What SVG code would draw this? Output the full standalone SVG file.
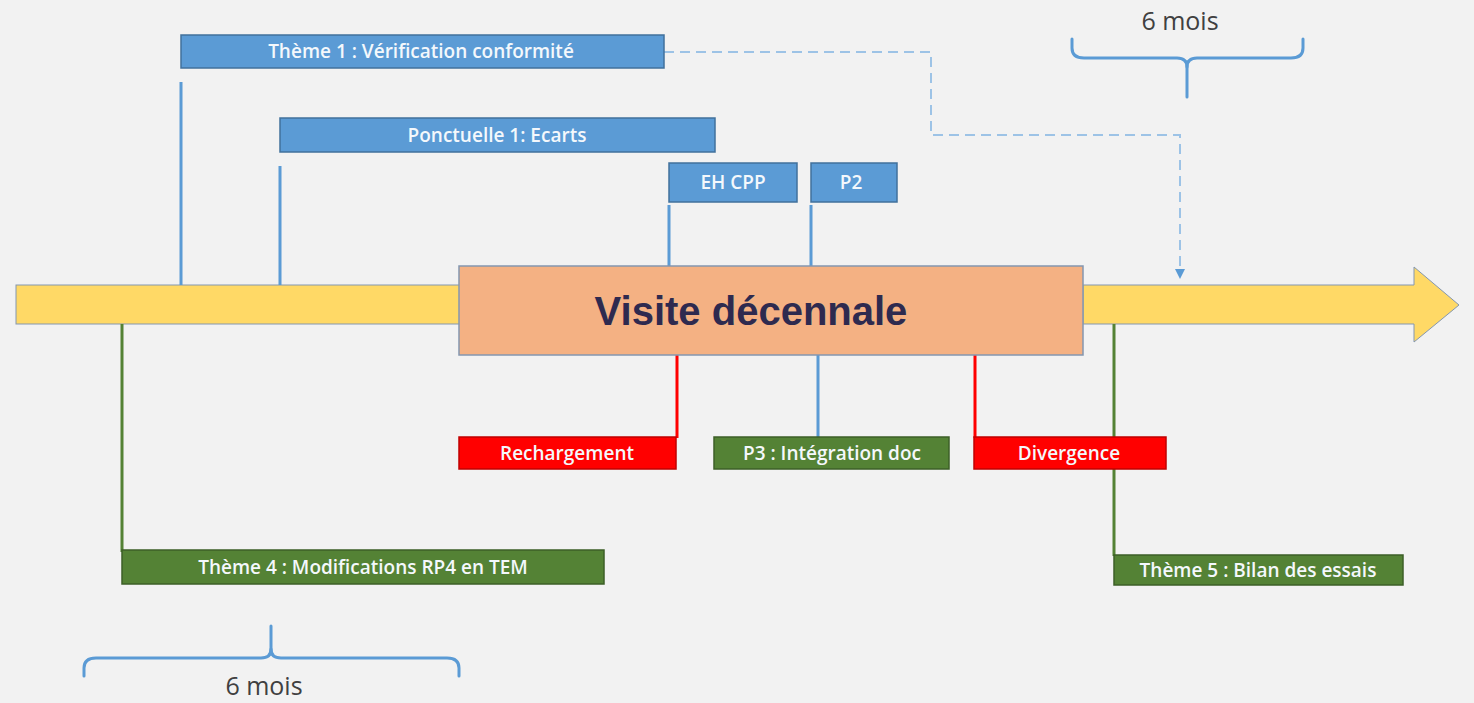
<svg xmlns="http://www.w3.org/2000/svg" width="1474" height="703" viewBox="0 0 1474 703">
<defs>
<style>
.lbl{font-family:"Open Sans","Noto Sans",sans-serif;font-size:19px;font-weight:600;fill:#f4f8fc;text-anchor:middle;dominant-baseline:central}
.blue{fill:#5b9bd5;stroke:#41719c;stroke-width:1.5}
.green{fill:#548235;stroke:#3d5f27;stroke-width:1.5}
.red{fill:#ff0000;stroke:#c00000;stroke-width:1.5}
.lb{stroke:#5b9bd5;stroke-width:3;fill:none}
.lg{stroke:#548235;stroke-width:3;fill:none}
.lr{stroke:#ff0000;stroke-width:3;fill:none}
.brace{stroke:#5b9bd5;stroke-width:3;fill:none;stroke-linecap:round;stroke-linejoin:round}
.mois{font-family:"Open Sans","Noto Sans",sans-serif;font-size:25px;fill:#404040;text-anchor:middle}
</style>
<marker id="ah" viewBox="0 0 10 10" refX="8" refY="5" markerWidth="10" markerHeight="10" markerUnits="userSpaceOnUse" orient="auto">
<path d="M0,0 L10,5 L0,10 Z" fill="#5b9bd5"/>
</marker>
</defs>
<rect width="1474" height="703" fill="#f2f2f2"/>

<g id="timeline">
<rect x="16" y="285" width="444" height="39" fill="#ffd966" stroke="#8497b0" stroke-width="1"/>
<path d="M1083,285 L1414,285 L1414,267 L1459,305 L1414,342 L1414,324 L1083,324 Z" fill="#ffd966" stroke="#8497b0" stroke-width="1"/>
</g>

<g id="connectors">
<line class="lb" x1="181" y1="82" x2="181" y2="285"/>
<line class="lb" x1="280" y1="166" x2="280" y2="285"/>
<line class="lb" x1="669" y1="205" x2="669" y2="266"/>
<line class="lb" x1="811" y1="205" x2="811" y2="266"/>
<path d="M664,52 L931,52 L931,135 L1180,135 L1180,277" fill="none" stroke="#9dc3e6" stroke-width="2" stroke-dasharray="10,6" marker-end="url(#ah)"/>
<line class="lg" x1="122" y1="324" x2="122" y2="552"/>
<line class="lr" x1="677" y1="355" x2="677" y2="438"/>
<line class="lb" x1="818" y1="355" x2="818" y2="438"/>
<line class="lr" x1="975" y1="355" x2="975" y2="438"/>
<line class="lg" x1="1114" y1="324" x2="1114" y2="556"/>
</g>

<g id="visite">
<rect x="459" y="266" width="624" height="89" fill="#f4b183" stroke="#8497b0" stroke-width="1.5"/>
<text x="751" y="325" font-family="'Liberation Sans',Arial,sans-serif" font-size="40" font-weight="bold" fill="#2e2a4f" text-anchor="middle">Visite décennale</text>
</g>

<g id="theme1"><rect class="blue" x="181" y="35" width="483" height="33"/><text class="lbl" x="421" y="51">Thème 1 : Vérification conformité</text></g>
<g id="ponctuelle1"><rect class="blue" x="280" y="118" width="435" height="34"/><text class="lbl" x="497" y="135">Ponctuelle 1: Ecarts</text></g>
<g id="ehcpp"><rect class="blue" x="669" y="163" width="128" height="39"/><text class="lbl" x="733" y="182">EH CPP</text></g>
<g id="p2"><rect class="blue" x="811" y="163" width="86" height="39"/><text class="lbl" x="851" y="182">P2</text></g>

<g id="theme4"><rect class="green" x="122" y="550" width="482" height="34"/><text class="lbl" x="363" y="567">Thème 4 : Modifications RP4 en TEM</text></g>
<g id="rechargement"><rect class="red" x="459" y="437" width="217" height="32"/><text class="lbl" x="567" y="453">Rechargement</text></g>
<g id="p3"><rect class="green" x="714" y="437" width="235" height="32"/><text class="lbl" x="832" y="453">P3 : Intégration doc</text></g>
<g id="divergence"><rect class="red" x="974" y="437" width="192" height="32"/><text class="lbl" x="1069" y="453">Divergence</text></g>
<g id="theme5"><rect class="green" x="1114" y="555" width="289" height="30"/><text class="lbl" x="1258" y="570">Thème 5 : Bilan des essais</text></g>

<g id="brace-top">
<path class="brace" d="M1072,39 L1072,48 Q1072,58 1084,58 L1177,58 Q1187,58 1187,67 Q1187,58 1197,58 L1291,58 Q1303,58 1303,48 L1303,39"/>
<line class="brace" x1="1187" y1="62" x2="1187" y2="97"/>
<text class="mois" x="1180" y="30">6 mois</text>
</g>
<g id="brace-bottom">
<path class="brace" d="M84,676 L84,668 Q84,658 96,658 L261,658 Q271,658 271,649 Q271,658 281,658 L447,658 Q459,658 459,668 L459,676"/>
<line class="brace" x1="271" y1="626" x2="271" y2="654"/>
<text class="mois" x="264" y="695">6 mois</text>
</g>
</svg>
